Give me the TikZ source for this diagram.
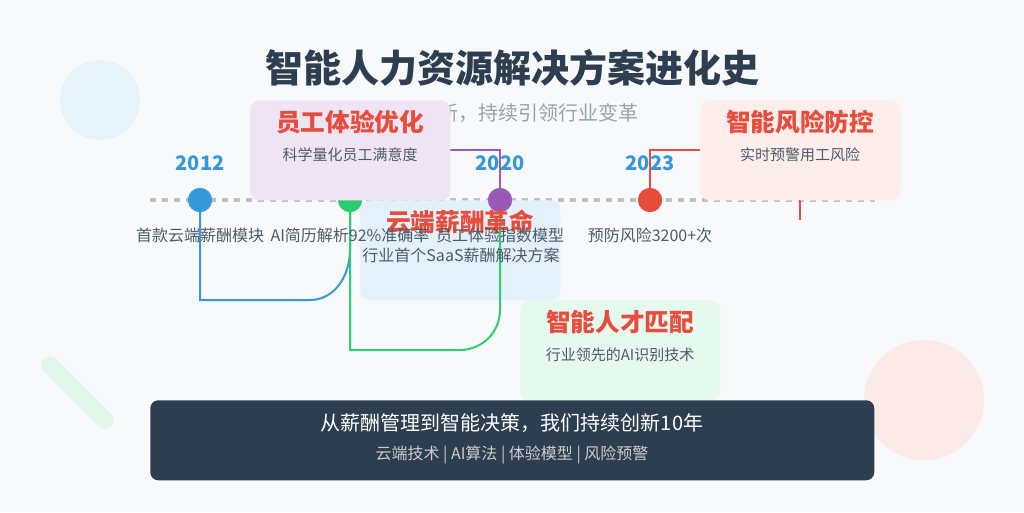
\documentclass[tikz,border=0pt]{standalone}
\usepackage{fontspec}
\setmainfont{Noto Sans CJK SC}
\usetikzlibrary{positioning}
\definecolor{bgc}{HTML}{F8F9FA}
\definecolor{navy}{HTML}{2C3E50}
\definecolor{tblue}{HTML}{3498DB}
\definecolor{tgreen}{HTML}{2ECC71}
\definecolor{tpurple}{HTML}{9B59B6}
\definecolor{tred}{HTML}{E74C3C}
\definecolor{gtext}{HTML}{95A5A6}
\begin{document}
\begin{tikzpicture}[
                    x=0.75pt,
                    y=-0.75pt,
                    link/.style={line width=1.5pt},
                    dot/.style={circle, minimum size=18pt, inner sep=0pt},
                    card/.style={rounded corners=7pt, minimum width=150pt, minimum height=75pt, anchor=north west},
                    year/.style={text=tblue, font=\fontsize{15}{17}\selectfont\bfseries},
                    milestone/.style={text=navy!85, font=\fontsize{12}{14}\selectfont},
                    cardtitle/.style={text=tred, font=\fontsize{18.5}{20}\selectfont\bfseries},
                    carddesc/.style={text=navy!85, font=\fontsize{11.25}{13}\selectfont}
                ]
                \fill[bgc] (0,0) rectangle (1024,512);
                \useasboundingbox (0,0) rectangle (1024,512);

                % decorations
                \fill[tblue!12] (100,100) circle (30pt);
                \fill[tred!12] (924,400) circle (45pt);
                \draw[tgreen!15, line width=13pt, line cap=round] (50,365) -- (105,420);

                \node[text=navy, font=\fontsize{28.5}{31}\selectfont\bfseries] (title) at (512,68) {智能人力资源解决方案进化史};
                \node[text=gtext, font=\fontsize{15}{17}\selectfont, anchor=east] (subtitle) at (643,113) {新，持续引领行业变革};

                % timeline
                \coordinate (tlA) at (150,200);
                \coordinate (tlB) at (875,200);
                \draw[gray!50, line width=3pt, dash pattern=on 4.5pt off 4.5pt] (tlA) -- (tlB);

                \node[card, fill=tblue!14] (cloud) at (360,200) {};

                % connectors
                \coordinate (c1) at (200,300);
                \coordinate (c2) at (350,350);
                \coordinate (c3) at (500,150);
                \coordinate (c4) at (650,150);
                \coordinate (c5) at (800,220);
                \coordinate (c6) at (800,200);
                \node[dot, fill=tblue] (d2012) at (200,200) {};
                \node[dot, fill=tgreen] (d2016) at (350,200) {};
                \node[dot, fill=tpurple] (d2020) at (500,200) {};
                \node[dot, fill=tred] (d2023) at (650,200) {};
                \draw[link, tblue] (d2012.center) -- (c1) -- (310,300) to[out=0, in=-90] (350,250) -- (d2016.center);
                \draw[link, tgreen] (d2016.center) -- (c2) -- (460,350) to[out=0, in=-90] (500,310) -- (d2020.center);
                \draw[link, tpurple] (d2020.center) -- (c3) -- (450,150);
                \draw[link, tred] (d2023.center) -- (c4) -- (700,150);
                \draw[link, tred] (c6) -- (c5);
                \node[dot, fill=tblue] at (d2012) {};
                \node[dot, fill=tpurple] at (d2020) {};
                \node[dot, fill=tred] at (d2023) {};
                \node[dot, fill=tgreen] at (d2016) {};

                % cards
                \node[card, fill=tpurple!16] (exp) at (250,100) {};
                \node[card, fill=tred!10] (risk) at (700,100) {};
                \node[card, fill=tgreen!12] (match) at (520,300) {};

                \node[year] (y2012) at (200,163) {2012};
                \node[year] (y2020) at (500,163) {2020};
                \node[year] (y2023) at (650,163) {2023};

                \node[cardtitle] (expT) at (350,122) {员工体验优化};
                \node[carddesc] (expD) at (350,155) {科学量化员工满意度};
                \node[cardtitle] (riskT) at (800,122) {智能风险防控};
                \node[carddesc] (riskD) at (800,155) {实时预警用工风险};
                \node[cardtitle] (cloudT) at (460,222) {云端薪酬革命};
                \node[carddesc, font=\fontsize{12}{14}\selectfont] (cloudD) at (461,255) {行业首个SaaS薪酬解决方案};
                \node[cardtitle] (matchT) at (620,322) {智能人才匹配};
                \node[carddesc] (matchD) at (620,355) {行业领先的AI识别技术};

                \node[milestone] (m2012) at (200,235) {首款云端薪酬模块};
                \node[milestone] (m2016) at (350,235) {AI简历解析92\%准确率};
                \node[milestone] (m2020) at (500,235) {员工体验指数模型};
                \node[milestone] (m2023) at (650,235) {预防风险3200+次};

                % banner
                \node[fill=navy, rounded corners=6pt, minimum width=543pt, minimum height=60pt, anchor=north west] (banner) at (150,400) {};
                \node[text=white, font=\fontsize{15}{17}\selectfont] (bannerT) at (512,423) {从薪酬管理到智能决策，我们持续创新10年};
                \node[text=gray!40, font=\fontsize{12}{14}\selectfont] (bannerD) at (512,455) {云端技术 | AI算法 | 体验模型 | 风险预警};
            \end{tikzpicture}
\end{document}
